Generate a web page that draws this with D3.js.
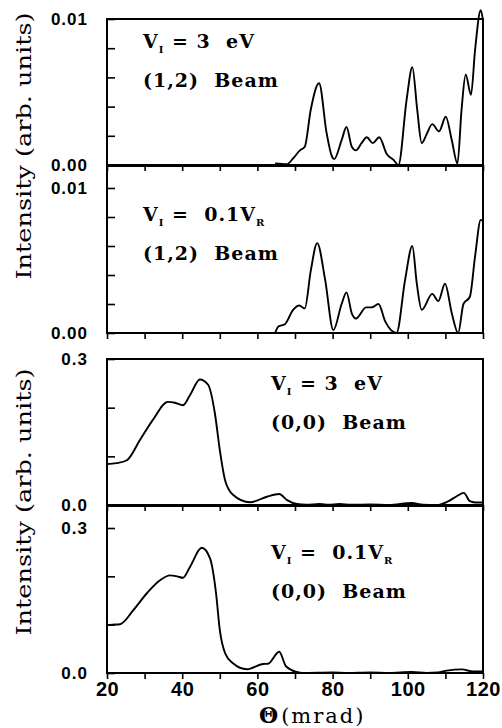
<!DOCTYPE html>
<html>
<head>
<meta charset="utf-8">
<script src="https://cdn.jsdelivr.net/npm/d3@7"></script>
<style>
  body { margin: 0; background: #fff; }
  text { fill: #000; }
  .tick text { font-family: "Liberation Sans", Arial, sans-serif; font-weight: bold; }
  .note { font-family: "DejaVu Serif", serif; font-weight: bold; font-size: 19px; letter-spacing: 1px; white-space: pre; }
</style>
</head>
<body>
<svg id="chart" width="502" height="728"></svg>
<script>
// x ticks (mrad)
const xTicks = [20, 30, 40, 50, 60, 70, 80, 90, 100, 110, 120]
const xTickLabels = [20, 40, 60, 80, 100, 120]

// (1,2) beam, V_I = 3 eV
const thetaA = [64.7, 67.8, 69.5, 71.3, 72.6, 74.2, 76.4, 78.4, 79.8, 80.4, 82.4, 83.7, 85.1, 86.2, 87.7, 89.1, 90.7, 92.4, 94.4, 96.2, 97.5, 99.7, 101.2, 102.5, 103.7, 105.0, 106.5, 108.3, 110.1, 111.7, 113.2, 114.3, 115.4, 116.8, 117.9, 119.4, 120]
const intA = [0.0001, 0.00005, 0.00045, 0.001, 0.00125, 0.0038, 0.0056, 0.0022, 0.0006, 0.0004, 0.0017, 0.0026, 0.00125, 0.001, 0.0015, 0.0019, 0.0015, 0.0019, 0.00075, 0.00035, 0.0, 0.0045, 0.0067, 0.0038, 0.0015, 0.0021, 0.0028, 0.0023, 0.0033, 0.0017, 0.0001, 0.0038, 0.0062, 0.0048, 0.0079, 0.0106, 0.0099]

// (1,2) beam, V_I = 0.1 V_R
const thetaB = [64.7, 65.6, 67.3, 69.5, 71.1, 72.6, 74.2, 75.9, 78.0, 80.2, 82.4, 83.7, 85.1, 86.2, 88.9, 90.4, 92.2, 94.0, 97.0, 99.3, 101.2, 102.4, 103.7, 106.5, 108.1, 109.9, 111.7, 113.4, 114.8, 116.5, 117.9, 119.4, 120]
const intB = [0.0, 0.00045, 0.0006, 0.0016, 0.0019, 0.0017, 0.0043, 0.0062, 0.0037, 0.0002, 0.002, 0.0028, 0.00136, 0.001, 0.00177, 0.00177, 0.002, 0.0008, 0.0, 0.0037, 0.006, 0.0034, 0.0016, 0.0027, 0.0022, 0.0034, 0.00136, 0.0, 0.002, 0.0025, 0.0053, 0.0078, 0.0077]

// (0,0) beam, V_I = 3 eV
const thetaC = [20, 22.5, 25.3, 28.8, 32.2, 36.2, 38.1, 40.2, 42.1, 44.7, 46.9, 48.7, 50.0, 51.4, 53.5, 58.0, 62.5, 65.8, 67.9, 70.5, 73, 76.6, 79, 81.8, 85, 90, 95, 101.1, 104, 107.8, 110.7, 113, 114.9, 116.5, 118.3, 120]
const intC = [0.084, 0.086, 0.092, 0.134, 0.175, 0.212, 0.21, 0.205, 0.226, 0.258, 0.247, 0.188, 0.113, 0.051, 0.021, 0.0055, 0.017, 0.0226, 0.01, 0.002, 0.0005, 0.002, 0.0005, 0.002, 0.0005, 0.001, 0.0, 0.004, 0.0005, 0.0, 0.0075, 0.018, 0.025, 0.008, 0.005, 0.005]

// (0,0) beam, V_I = 0.1 V_R
const thetaD = [20, 21.5, 23.5, 27.0, 30.6, 34.1, 36.8, 38.6, 40.2, 42.1, 45.2, 47.4, 49.0, 50.0, 51.4, 53.5, 57.2, 61.5, 62.8, 65.8, 67.6, 70.5, 72, 80, 84, 90, 95, 101, 105, 108, 110.4, 114.4, 117.4, 120]
const intD = [0.099, 0.1, 0.101, 0.13, 0.165, 0.192, 0.202, 0.2, 0.197, 0.22, 0.259, 0.237, 0.165, 0.089, 0.041, 0.02, 0.0077, 0.0186, 0.019, 0.044, 0.014, 0.002, 0.0, 0.001, 0.0, 0.001, 0.0, 0.002, 0.0, 0.001, 0.005, 0.0075, 0.003, 0.003]

const yTicksSmall = [0, 0.002, 0.004, 0.006, 0.008, 0.01]
const yTicksBig = [0, 0.1, 0.2, 0.3]

const svg = d3.select('#chart')

const x = d3.scaleLinear().domain([20, 120]).range([107, 483])

const panels = [
  { theta: thetaA, vals: intA, max: 0.01, ticks: yTicksSmall, fmt: '.2f', top: 19, y0: 165, yMax: 19, vi: '3', beam: '(1,2)', nx: 143, ny: 48 },
  { theta: thetaB, vals: intB, max: 0.01, ticks: yTicksSmall, fmt: '.2f', top: 166, y0: 333, yMax: 188, vi: 'R', beam: '(1,2)', nx: 143, ny: 221 },
  { theta: thetaC, vals: intC, max: 0.3, ticks: yTicksBig, fmt: '.1f', top: 359, y0: 505, yMax: 359, vi: '3', beam: '(0,0)', nx: 271, ny: 390 },
  { theta: thetaD, vals: intD, max: 0.3, ticks: yTicksBig, fmt: '.1f', top: 506, y0: 673, yMax: 528, vi: 'R', beam: '(0,0)', nx: 271, ny: 559 }
]

panels.forEach(function(p, i) {
  var y = d3.scaleLinear().domain([0, p.max]).range([p.y0, p.yMax])
  var g = svg.append('g')

  // frame
  g.append('rect')
    .attr('x', x(20)).attr('y', p.top)
    .attr('width', x(120) - x(20)).attr('height', p.y0 - p.top)
    .attr('fill', 'none').attr('stroke', '#000').attr('stroke-width', 2)

  // bottom ticks, pointing down
  var last = i == panels.length - 1
  var xa = g.append('g')
    .attr('transform', 'translate(0,' + p.y0 + ')')
    .call(d3.axisBottom(x).tickValues(xTicks).tickSize(6).tickPadding(3)
      .tickFormat(function(d) { return last && xTickLabels.indexOf(d) >= 0 ? d : '' }))
  xa.select('.domain').remove()
  xa.selectAll('.tick line').attr('stroke-width', 1.6)
  xa.selectAll('.tick text').attr('font-size', 20).attr('letter-spacing', 0.5)

  // left ticks, pointing in
  var ya = g.append('g')
    .attr('transform', 'translate(' + x(20) + ',0)')
    .call(d3.axisLeft(y).tickValues(p.ticks).tickSize(-8).tickPadding(19)
      .tickFormat(function(d, k) { return k == 0 || k == p.ticks.length - 1 ? d3.format(p.fmt)(d) : '' }))
  ya.select('.domain').remove()
  ya.selectAll('.tick line').attr('stroke-width', 1.6)
  ya.selectAll('.tick text').attr('font-size', 17).attr('letter-spacing', 1)

  // curve
  var pts = p.theta.map(function(t, k) { return [t, p.vals[k]] })
  g.append('path')
    .datum(pts)
    .attr('fill', 'none')
    .attr('stroke', '#000')
    .attr('stroke-width', 1.9)
    .attr('d', d3.line()
      .x(function(d) { return x(d[0]) })
      .y(function(d) { return y(d[1]) })
      .curve(d3.curveMonotoneX))

  // annotations
  var t1 = g.append('text').attr('class', 'note').attr('x', p.nx).attr('y', p.ny)
  t1.append('tspan').text('V')
  t1.append('tspan').attr('font-size', 10).attr('dy', 5).text('I')
  if (p.vi == '3') {
    t1.append('tspan').attr('dy', -5).text(' = 3  eV')
  } else {
    t1.append('tspan').attr('dy', -5).text(' =  0.1V')
    t1.append('tspan').attr('font-size', 10).attr('dy', 5).text('R')
  }
  g.append('text').attr('class', 'note').attr('x', p.nx).attr('y', p.ny + 39).text(p.beam + '  Beam')
})

// y labels, one per pair of panels
;[146, 502].forEach(function(cy) {
  svg.append('text')
    .attr('transform', 'translate(31,' + cy + ') rotate(-90)')
    .attr('text-anchor', 'middle')
    .attr('font-family', '"DejaVu Serif", serif')
    .attr('font-size', 20)
    .attr('textLength', 267)
    .attr('lengthAdjust', 'spacingAndGlyphs')
    .text('Intensity (arb. units)')
})

// x label
var xl = svg.append('text').attr('x', 259).attr('y', 723)
xl.append('tspan')
  .attr('font-family', '"DejaVu Serif", serif')
  .attr('font-weight', 'bold').attr('font-size', 22).text('Θ')
xl.append('tspan')
  .attr('dx', 3)
  .attr('font-family', '"DejaVu Serif", serif')
  .attr('letter-spacing', 2)
  .attr('font-size', 21).text('(mrad)')
</script>
</body>
</html>
